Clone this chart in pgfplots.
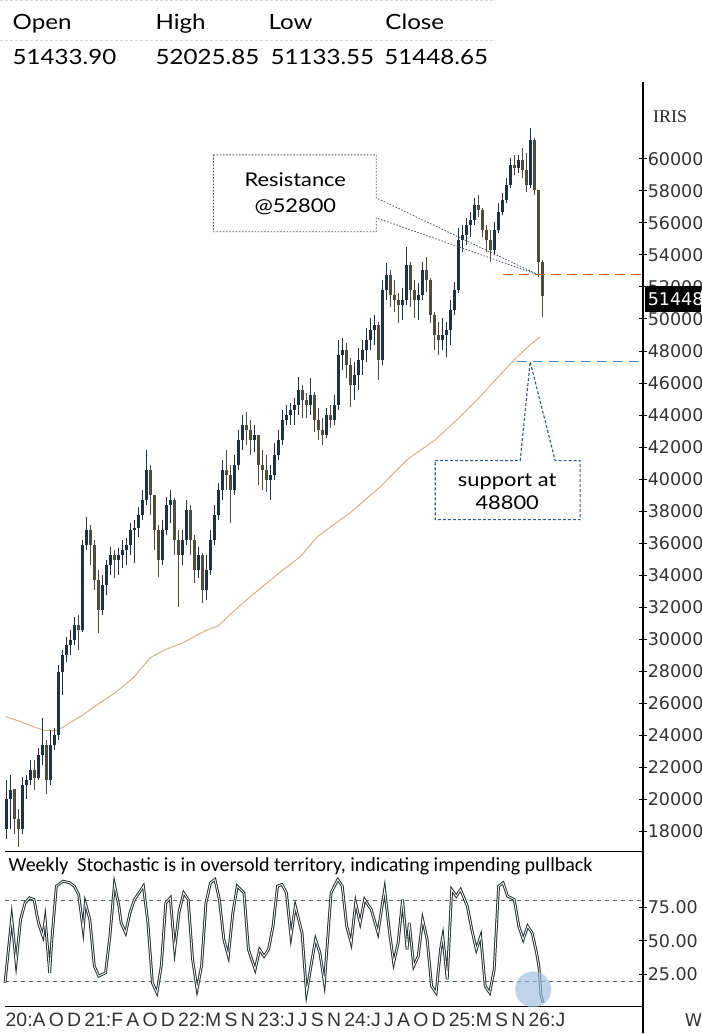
\documentclass[border=0pt]{standalone}
\usepackage{pgfplots}
\pgfplotsset{compat=1.18}
\usepackage{pgfplotstable}
\usepackage{fontspec}
\setmainfont{Lato}
\newfontfamily\mfont[FakeStretch=1.15]{Lato}
\newfontfamily\dvs{DejaVu Sans}
\newfontfamily\carl{Carlito}
\newfontfamily\lsans{Liberation Sans}
\newfontfamily\lserif{Liberation Serif}
\definecolor{upc}{HTML}{1B3248}
\definecolor{dnc}{HTML}{4F4E3A}
\definecolor{matan}{HTML}{D2B286}
\definecolor{resor}{HTML}{E2601E}
\definecolor{supbl}{HTML}{4A8FD6}
\definecolor{axgray}{HTML}{333333}
\definecolor{stochc}{HTML}{263232}
\definecolor{lvl}{HTML}{4E6B4E}
\definecolor{resbox}{HTML}{4A5A6A}
\definecolor{supbox}{HTML}{2B5C8F}
\definecolor{sepgray}{HTML}{D6D6D6}
\definecolor{circbl}{HTML}{9DBDE0}

\newcommand{\tickfont}{\dvs\fontsize{17.5}{18}\selectfont}

\pgfplotstableread{
x o h l c
6 18116 21237 17492 19989
10 19989 21549 18116 20613
14 20613 20613 17804 18741
18 18741 19365 16993 18116
22 18116 21425 17804 20925
26 20925 21549 19989 21237
30 21237 22486 20925 21862
34 21862 22486 20613 21362
38 21362 23235 21237 22798
42 22798 25107 22174 23422
46 23422 23734 20301 21237
50 21237 24358 20925 23422
54 23422 24483 23110 24046
58 24046 28400 23734 27980
62 27980 29352 26543 29040
66 29040 30163 28603 29664
70 29664 30600 29040 29976
74 29976 31412 29664 30912
78 30912 31537 29352 30600
82 30600 36218 30476 35906
86 35906 37654 35594 36842
90 36842 37154 34658 35906
94 35906 36218 33097 33721
98 33721 34346 30413 31849
102 31849 34033 31537 33409
106 33409 34970 32785 34658
110 34658 35781 34033 35282
114 35282 35594 33846 34970
118 34970 35719 34033 35282
122 35282 36218 34470 35594
126 35594 36343 34658 35906
130 35906 37279 35282 36842
134 36842 37467 34783 36967
138 36967 38278 36405 37779
142 37779 39339 37467 38715
146 38715 41836 38403 40588
150 40588 40900 37779 39027
154 39027 39027 35594 36842
158 36842 37154 33909 34970
162 34970 37467 34658 36842
166 36842 38902 36530 38403
170 38403 39339 37279 38715
174 38715 38840 35282 36218
178 36218 36842 32036 35282
182 35282 36842 34658 36218
186 36218 38715 35906 38091
190 38091 38403 35282 36218
194 36218 36530 33534 34346
198 34346 35781 33846 35282
202 35282 35407 32286 33097
206 33097 35282 32473 34346
210 34346 36842 34033 36218
214 36218 38403 35906 37779
218 37779 39776 37467 39339
222 39339 41212 38715 40588
226 40588 41836 39339 40275
230 40275 40900 37279 39339
234 39339 41524 39027 40900
238 40900 43084 40588 42460
242 42460 44021 41836 43396
246 43396 44208 42148 43084
250 43084 43709 41524 42460
254 42460 43396 41711 42772
258 42772 42772 39651 40900
262 40900 41836 39339 40588
266 40588 41524 39214 39963
270 39963 40900 38715 40275
274 40275 42273 39963 41524
278 41524 43084 41212 42460
282 42460 44333 42148 43709
286 43709 44645 43396 44021
290 44021 44770 43396 44333
294 44333 45082 43396 44645
298 44645 46393 44021 45581
302 45581 45893 43833 44957
306 44957 45394 43833 44645
310 44645 46330 44021 45269
314 45269 45456 42960 43709
318 43709 44458 42460 43084
322 43084 43833 42148 42772
326 42772 44458 42585 44021
330 44021 44645 43209 43709
334 43709 45269 43396 44645
338 44645 48702 44333 47766
342 47766 48827 46830 48078
346 48078 48515 46330 47142
350 47142 47579 44520 45893
354 45893 47329 44957 46517
358 46517 48203 45581 47454
362 47454 48702 46517 48078
366 48078 49451 47329 48702
370 48702 50075 48078 49326
374 49326 50263 48390 49638
378 49638 49826 46205 47454
382 47454 52447 47142 51823
386 51823 53509 51199 52759
390 52759 53072 50762 51511
394 51511 52447 50450 51199
398 51199 51636 49763 50887
402 50887 51948 49951 51199
406 51199 54507 50887 53384
410 53384 53571 50762 51823
414 51823 52447 50075 51199
418 51199 52260 49951 51511
422 51511 53571 51199 53072
426 53072 53883 51698 52447
430 52447 52572 49763 50263
434 50263 50450 48078 49014
438 49014 49826 47766 48702
442 48702 50075 48078 49014
446 49014 49826 47641 49326
450 49326 51199 48390 50575
454 50575 52323 50263 51823
458 51823 55693 51636 54944
462 54944 55880 54195 55256
466 55256 56317 54632 55880
470 55880 56692 55131 56193
474 56193 57566 55880 57129
478 57129 57753 56380 56817
482 56817 56942 55131 55568
486 55568 55880 54195 54944
490 54944 55568 53571 54320
494 54320 56068 54008 55568
498 55568 57254 55381 56692
502 56692 57878 56505 57441
506 57441 58814 57254 58377
510 58377 60063 58190 59626
514 59626 60250 59001 59438
518 59438 60250 59126 59938
522 59938 60687 58814 59314
526 59314 60375 57940 58377
530 58377 61935 58190 61186
534 61186 61311 57753 58065
538 58065 58065 52635 53571
542 53571 53700 50150 51448.65
}\candles

\pgfplotsset{
  rightax/.style={
    scale only axis, clip=false,
    xmin=0, xmax=643,
    axis x line=none, axis y line*=right,
    y axis line style={black, line width=1.3pt, -},
    tick align=center, major tick length=8pt,
    tick style={black, line width=1pt},
    scaled y ticks=false,
    yticklabel style={text=axgray, anchor=west, inner sep=0pt, xshift=0pt},
    /pgf/number format/1000 sep={},
    /pgf/number format/assume math mode=true,
  },
  wick/.style={draw=none, mark=none, forget plot,
    error bars/.cd, y dir=both, y explicit, error mark=none,
    error bar style={draw=#1, line width=1.3pt}},
  body/.style={draw=none, mark=none, forget plot,
    error bars/.cd, y dir=both, y explicit, error mark=none,
    error bar style={draw=#1, line width=3.1pt}},
}

\begin{document}
\begin{tikzpicture}
\path (0pt,0pt) rectangle (701pt,1034pt);

% ---------- main price panel ----------
\begin{axis}[rightax, at={(0pt,182pt)}, anchor=south west,
  width=643pt, height=770pt,
  ymin=16743, ymax=64807,
  ytick={18000,20000,...,60000},
  yticklabel={\makebox[0pt][l]{\tickfont\pgfmathprintnumber[fixed,precision=0,1000 sep={}]{\tick}}}]
\addplot[matan, line width=1pt] coordinates {
(5,25170)(20,24858)(35,24483)(45,24296)(55,24296)(62,24483)(70,24795)(80,25170)
(90,25607)(100,26044)(115,26668)(133,27604)(150,28853)(165,29352)(183,29789)
(207,30600)(217,30788)(233,31724)(250,32660)(283,34346)(300,35157)(317,36405)
(350,37903)(380,39526)(407,41212)(435,42460)(460,43896)(477,44957)(500,46517)
(517,47641)(530,48390)(540,48889)};
% up candles
\addplot[restrict expr to domain={\thisrow{c}-\thisrow{o}}{0:100000}, wick=upc]
  table[x=x, y expr={(\thisrow{h}+\thisrow{l})/2}, y error expr={(\thisrow{h}-\thisrow{l})/2}]{\candles};
\addplot[restrict expr to domain={\thisrow{c}-\thisrow{o}}{0:100000}, body=upc]
  table[x=x, y expr={(\thisrow{o}+\thisrow{c})/2}, y error expr={abs(\thisrow{c}-\thisrow{o})/2}]{\candles};
% down candles
\addplot[restrict expr to domain={\thisrow{c}-\thisrow{o}}{-100000:0}, wick=dnc]
  table[x=x, y expr={(\thisrow{h}+\thisrow{l})/2}, y error expr={(\thisrow{h}-\thisrow{l})/2}]{\candles};
\addplot[restrict expr to domain={\thisrow{c}-\thisrow{o}}{-100000:0}, body=dnc]
  table[x=x, y expr={(\thisrow{o}+\thisrow{c})/2}, y error expr={abs(\thisrow{c}-\thisrow{o})/2}]{\candles};
% resistance / support levels
\addplot[resor, line width=1.3pt, dash pattern=on 10pt off 6pt] coordinates {(503,52800)(643,52800)};
\addplot[supbl, line width=1.3pt, dash pattern=on 10pt off 6pt] coordinates {(517,47360)(643,47360)};
\end{axis}

% ---------- stochastic panel ----------
\begin{axis}[rightax, at={(0pt,0pt)}, anchor=south west,
  width=643pt, height=182pt,
  ymin=-19, ymax=116.8,
  ytick={25,50,75},
  yticklabel={\makebox[0pt][l]{\tickfont\pgfmathprintnumber[fixed,fixed zerofill,precision=2]{\tick}}}]
\addplot[lvl, line width=1pt, dash pattern=on 4pt off 4pt] coordinates {(5,80)(643,80)};
\addplot[lvl, line width=1pt, dash pattern=on 4pt off 4pt] coordinates {(5,20)(643,20)};
\addplot[black, line width=1.3pt] coordinates {(5,116.8)(643,116.8)};
\addplot[black, line width=1.3pt] coordinates {(5,1.1)(643,1.1)};
\addplot[stochc, line width=1pt, double=white, double distance=0.8pt] coordinates {
(4.5,18.7)(11.2,67.2)(15.6,33.7)(20.1,66.0)(24.6,78.4)(29.1,82.2)(33.5,80.9)(38.0,63.5)
(42.5,53.5)(44.7,66.0)(49.2,26.2)(51.4,51.1)(55.9,90.9)(62.6,94.6)(69.3,93.4)(73.8,90.9)
(78.2,84.7)(82.7,58.5)(84.9,78.4)(89.4,66.0)(93.9,31.2)(98.3,23.7)(105.1,26.2)(109.5,53.5)
(114.0,92.2)(118.5,76.0)(120.7,63.5)(125.2,56.0)(129.6,71.0)(134.1,80.9)(138.6,85.9)
(143.0,90.9)(147.5,63.5)(152.0,18.7)(156.5,11.3)(160.9,31.2)(165.4,78.4)(169.9,82.2)
(174.3,43.6)(178.8,72.2)(183.3,85.9)(187.8,80.9)(192.2,36.2)(196.7,13.8)(201.2,31.2)
(205.6,78.4)(210.1,93.4)(214.6,95.9)(219.0,80.9)(223.5,51.1)(228.0,38.6)(232.5,71.0)
(236.9,90.9)(243.6,85.9)(248.1,43.6)(254.8,28.7)(259.3,43.6)(263.7,38.6)(268.2,43.6)
(272.7,61.0)(277.2,90.9)(281.6,92.2)(286.1,85.9)(290.6,53.5)(295.0,76.0)(301.7,56.0)
(306.2,11.3)(310.7,31.2)(315.2,51.1)(319.6,41.1)(324.1,18.7)(330.8,85.9)(337.5,95.9)
(342.0,90.9)(346.4,61.0)(350.9,48.6)(355.4,78.4)(359.9,63.5)(364.3,80.9)(371.0,73.5)
(377.7,56.0)(384.4,88.4)(388.9,58.5)(393.4,33.7)(397.9,48.6)(402.3,80.9)(406.8,43.6)
(409.0,63.5)(413.5,31.2)(418.0,38.6)(422.4,66.0)(426.9,51.1)(431.4,16.2)(435.9,11.3)
(440.3,43.6)(442.6,53.5)(447.0,21.2)(451.5,88.4)(456.0,83.4)(460.4,88.4)(467.1,76.0)
(471.6,58.5)(476.1,43.6)(480.5,53.5)(485.0,16.2)(489.5,11.3)(494.0,28.7)(498.4,90.9)
(502.9,93.4)(507.4,83.4)(514.1,80.9)(518.6,61.0)(523.0,51.1)(527.5,61.0)(532.0,56.0)
(536.4,41.1)(538.7,31.2)(540.9,8.8)(543.1,3.8)};
\end{axis}

% highlight circle
\fill[circbl, opacity=0.65] (533pt,44pt) circle (18pt);

% ---------- annotations ----------
\draw[resbox, line width=0.8pt, dash pattern=on 1.6pt off 1.6pt]
  (213pt,879pt) -- (376pt,879pt) -- (376pt,836pt) -- (538pt,759pt) -- (376pt,816pt)
  -- (376pt,802pt) -- (213pt,802pt) -- cycle;
\node[anchor=base, inner sep=0pt] at (295pt,847pt) {\mfont\fontsize{19}{22}\selectfont Resistance};
\node[anchor=base, inner sep=0pt] at (295pt,821pt) {\mfont\fontsize{19}{22}\selectfont @52800};

\draw[supbox, line width=1.1pt, dash pattern=on 3pt off 2pt]
  (435pt,573pt) -- (520pt,573pt) -- (530pt,672pt) -- (555pt,573pt) -- (580pt,573pt)
  -- (580pt,514pt) -- (435pt,514pt) -- cycle;
\node[anchor=base, inner sep=0pt] at (507pt,547pt) {\mfont\fontsize{19}{22}\selectfont support at};
\node[anchor=base, inner sep=0pt] at (507pt,524pt) {\mfont\fontsize{19}{22}\selectfont 48800};

% last price box
\fill[black] (645pt,722pt) rectangle (701pt,748pt);
\node[anchor=west, inner sep=0pt, text=white] at (647pt,735pt) {\makebox[0pt][l]{\tickfont 51448}};
% symbol
\node[inner sep=0pt, text=black!85] at (670pt,917pt) {\lserif\fontsize{18}{20}\selectfont IRIS};

% top OHLC table
\draw[sepgray, line width=1pt, dash pattern=on 3pt off 2pt] (0pt,993pt) -- (495pt,993pt);
\draw[sepgray, line width=1pt, dash pattern=on 3pt off 2pt] (0pt,1033pt) -- (495pt,1033pt);
\foreach \xx/\tt in {12/Open,155/High,268/Low,385/Close}
  \node[anchor=base west, inner sep=0pt] at (\xx pt,1004pt) {\mfont\fontsize{21}{24}\selectfont \tt};
\foreach \xx/\tt in {12/51433.90,155/52025.85,270/51133.55,384/51448.65}
  \node[anchor=base west, inner sep=0pt] at (\xx pt,969pt) {\mfont\fontsize{21}{24}\selectfont \tt};

% stochastic caption
\node[anchor=base west, inner sep=0pt] at (8pt,162pt) {\carl\fontsize{20}{22}\selectfont Weekly\ \ Stochastic is in oversold territory, indicating impending pullback};
% time labels
\node[anchor=base west, inner sep=0pt, text=axgray] at (5pt,7pt) {\resizebox{560pt}{!}{\lsans\fontsize{19}{20}\selectfont 20:A\,O\,D\,21:F\,A\,O\,D\,22:M\,S\,N\,23:J\,J\,S\,N\,24:J\,J\,A\,O\,D\,25:M\,S\,N\,26:J}};
\node[anchor=base west, inner sep=0pt, text=axgray] at (684pt,7pt) {\makebox[0pt][l]{\tickfont W}};
\end{tikzpicture}
\end{document}
